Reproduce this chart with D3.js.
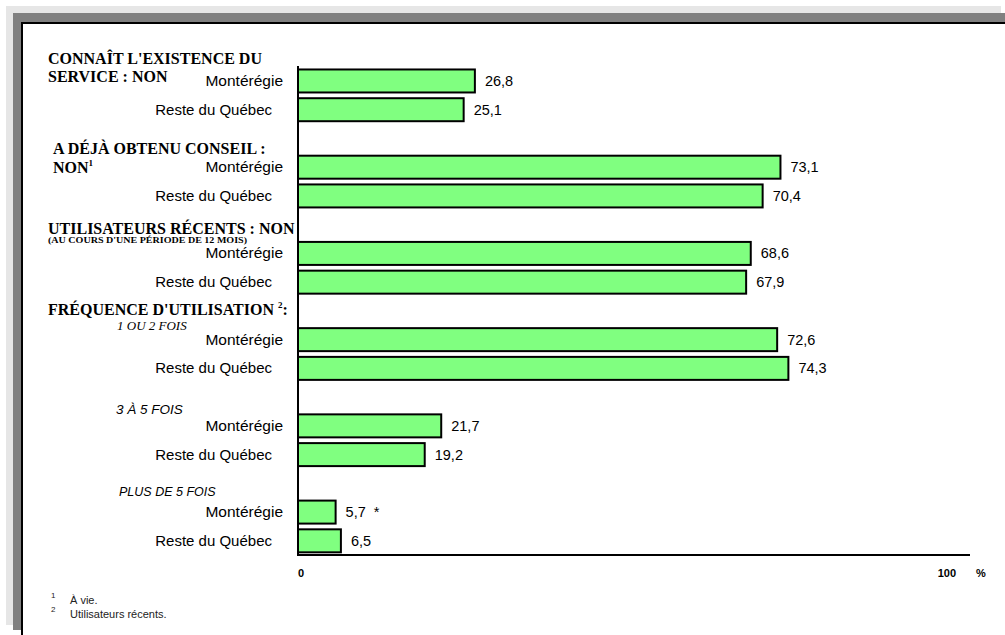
<!DOCTYPE html>
<html>
<head>
<meta charset="utf-8">
<script src="https://cdn.jsdelivr.net/npm/d3@7"></script>
<style>
  html, body { margin: 0; padding: 0; background: #fff; }
  svg { display: block; }
</style>
</head>
<body>
<script>
// ---- data ----
const groups = [
  "CONNAÎT L'EXISTENCE DU SERVICE : NON",
  "A DÉJÀ OBTENU CONSEIL : NON",
  "UTILISATEURS RÉCENTS : NON",
  "FRÉQUENCE D'UTILISATION : 1 OU 2 FOIS",
  "3 À 5 FOIS",
  "PLUS DE 5 FOIS"
];
const seriesNames = ["Montérégie", "Reste du Québec"];
const valuesMonteregie = [26.8, 73.1, 68.6, 72.6, 21.7, 5.7];
const valuesResteQuebec = [25.1, 70.4, 67.9, 74.3, 19.2, 6.5];
const valueLabelsMonteregie = ["26,8", "73,1", "68,6", "72,6", "21,7", "5,7  *"];
const valueLabelsResteQuebec = ["25,1", "70,4", "67,9", "74,3", "19,2", "6,5"];
const tickValues = [0, 100];
const tickLabels = ["0", "100"];
const footnotes = ["À vie.", "Utilisateurs récents."];

// ---- build rows ----
const rows = [];
groups.forEach((g, gi) => {
  rows.push({slot: gi * 3, group: gi, series: 0, value: valuesMonteregie[gi], label: valueLabelsMonteregie[gi]});
  rows.push({slot: gi * 3 + 1, group: gi, series: 1, value: valuesResteQuebec[gi], label: valueLabelsResteQuebec[gi]});
});

const W = 1005, H = 635;
const svg = d3.select("body").append("svg").attr("width", W).attr("height", H);

// frame / shadow
svg.append("rect").attr("x", 6).attr("y", 6).attr("width", 995).attr("height", 619).attr("fill", "#e6e6e6");
svg.append("rect").attr("x", 13).attr("y", 13).attr("width", 992).attr("height", 617).attr("fill", "#808080");
svg.append("rect").attr("x", 21).attr("y", 22).attr("width", 984).attr("height", 613).attr("fill", "#000");
svg.append("rect").attr("x", 23).attr("y", 24).attr("width", 982).attr("height", 611).attr("fill", "#fff");

// scales
const x = d3.scaleLinear().domain([0, 100]).range([298, 958]);
const y = d3.scaleBand().domain(d3.range(17)).range([66.6, 555.2]).paddingInner(0.2).paddingOuter(0.1);

const sans = "'Liberation Sans', Arial, sans-serif";
const serif = "'Liberation Serif', 'Times New Roman', serif";

// bars
svg.append("g").selectAll("rect").data(rows).join("rect")
  .attr("x", x(0))
  .attr("y", d => y(d.slot))
  .attr("width", d => x(d.value) - x(0))
  .attr("height", y.bandwidth())
  .attr("fill", "#80ff80")
  .attr("stroke", "#000")
  .attr("stroke-width", 2);

// value labels
svg.append("g").selectAll("text").data(rows).join("text")
  .attr("x", d => x(d.value) + 10)
  .attr("y", d => y(d.slot) + y.bandwidth() / 2 + 5)
  .attr("font-family", sans).attr("font-size", 14.5).attr("fill", "#000")
  .attr("xml:space", "preserve")
  .style("white-space", "pre")
  .text(d => d.label);

// category labels
svg.append("g").selectAll("text").data(rows).join("text")
  .attr("x", d => d.series === 0 ? 283 : 272)
  .attr("y", d => y(d.slot) + y.bandwidth() / 2 + 5)
  .attr("text-anchor", "end")
  .attr("font-family", sans).attr("font-size", d => d.series === 0 ? 15.5 : 15).attr("fill", "#000")
  .text(d => seriesNames[d.series]);

// axes
svg.append("line").attr("x1", x(0)).attr("x2", x(0)).attr("y1", 66).attr("y2", 556)
  .attr("stroke", "#000").attr("stroke-width", 2);
svg.append("line").attr("x1", x(0) - 1).attr("x2", 970).attr("y1", 555).attr("y2", 555)
  .attr("stroke", "#000").attr("stroke-width", 2);

// tick labels
svg.append("g").selectAll("text").data(tickValues).join("text")
  .attr("x", (d, i) => i === 0 ? x(d) : x(d) - 2)
  .attr("y", 577)
  .attr("text-anchor", (d, i) => i === 0 ? "start" : "end")
  .attr("font-family", sans).attr("font-size", 11).attr("font-weight", "bold")
  .text((d, i) => tickLabels[i]);
svg.append("text").attr("x", 976).attr("y", 577)
  .attr("font-family", sans).attr("font-size", 11).attr("font-weight", "bold").text("%");

// group headings
const bold = {"font-family": serif, "font-size": 16, "font-weight": "bold"};
function txt(xp, yp, s, attrs) {
  const t = svg.append("text").attr("x", xp).attr("y", yp).text(s);
  Object.entries(attrs).forEach(([k, v]) => t.attr(k, v));
  return t;
}
txt(48, 64, "CONNAÎT L'EXISTENCE DU", bold);
txt(48, 82, "SERVICE : NON", bold);
txt(53, 154, "A DÉJÀ OBTENU CONSEIL :", bold);
const n1 = txt(53, 173, "NON", bold);
n1.append("tspan").attr("font-size", 9).attr("dy", -7).text("1");
txt(48, 234, "UTILISATEURS RÉCENTS : NON", bold);
txt(48, 243, "(AU COURS D'UNE PÉRIODE  DE 12  MOIS)", {"font-family": serif, "font-size": 7.5, "font-weight": "bold", "textLength": 199, "lengthAdjust": "spacingAndGlyphs"});
const f = txt(48, 315, "FRÉQUENCE D'UTILISATION ", bold);
f.append("tspan").attr("font-size", 9).attr("dy", -7).text("2");
f.append("tspan").attr("dy", 7).text(":");
txt(117, 330, "1 OU 2 FOIS", {"font-family": serif, "font-size": 13, "font-style": "italic"});
txt(116, 414, "3 À 5 FOIS", {"font-family": sans, "font-size": 13.5, "font-style": "italic"});
txt(119, 496, "PLUS DE 5 FOIS", {"font-family": sans, "font-size": 12.5, "font-style": "italic"});

// footnotes
svg.append("g").selectAll("text.fn").data(footnotes).join("text")
  .attr("x", 70).attr("y", (d, i) => 604 + i * 14)
  .attr("font-family", sans).attr("font-size", 11).attr("fill", "#222")
  .text(d => d);
svg.append("g").selectAll("text.sup").data(footnotes).join("text")
  .attr("x", 51).attr("y", (d, i) => 598 + i * 14)
  .attr("font-family", sans).attr("font-size", 8).attr("fill", "#222")
  .text((d, i) => String(i + 1));
</script>
</body>
</html>
